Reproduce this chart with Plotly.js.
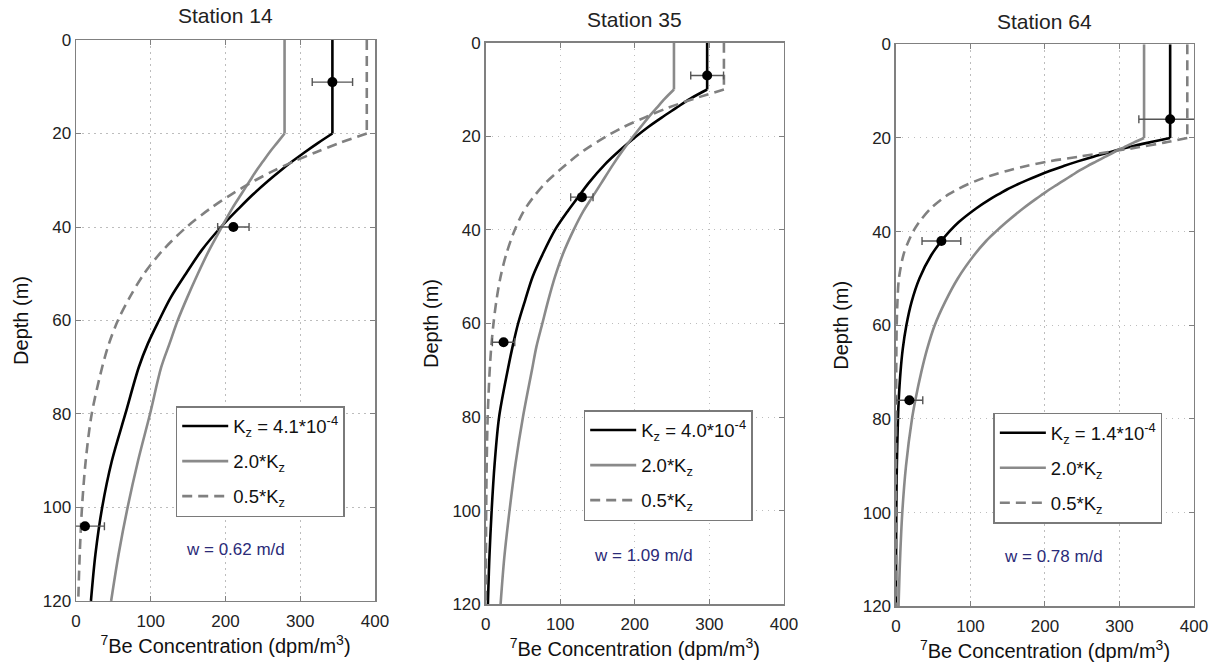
<!DOCTYPE html>
<html>
<head>
<meta charset="utf-8">
<script src="https://cdn.plot.ly/plotly-3.0.1.min.js"></script>
<style>html,body{margin:0;padding:0;background:#fff;}#chart{width:1216px;height:667px;}</style>
</head>
<body>
<div id="chart"></div>
<script>
// ---------------- data ----------------
const stations = ['Station 14', 'Station 35', 'Station 64'];
const wLabels = ['w = 0.62 m/d', 'w = 1.09 m/d', 'w = 0.78 m/d'];
const kzLabels = ['K<sub>z</sub> = 4.1*10<sup>-4</sup>', 'K<sub>z</sub> = 4.0*10<sup>-4</sup>', 'K<sub>z</sub> = 1.4*10<sup>-4</sup>'];
const kz2Label = '2.0*K<sub>z</sub>';
const kz05Label = '0.5*K<sub>z</sub>';

// Station 14 model profiles (mixed layer 0-20 m, then decay)
const depth14 = [0,20,22,24,26,28,30,33,36,40,45,50,55,60,65,70,80,90,100,110,120];
const kz14    = [343,343,324,306,289,273,258,237,218,194,168,147,127,111,96,84,66,48,35,26,20];
const kz14x2  = [279,279,269,259,250,241,233,221,209,195,178,163,149,136,125,114,99,83,69,57,47];
const kz14x05 = [389,389,353,321,291,264,240,208,180,148,116,91,72,56,44,35,21,13,8,5,3];

// Station 35 model profiles (mixed layer 0-10 m)
const depth35 = [0,10,12,14,16,18,20,23,26,30,33,36,40,45,50,55,60,65,70,80,90,100,110,120];
const kz35    = [297,297,274,255,236,218,202,180,160,138,124,110,93,77,63,53,43.5,36,29.5,18,12,8,5,3];
const kz35x2  = [252.5,252.5,240,229,218,208,198,184,171,155,143,131,118,104,93,84,76,68,62,50,40,32,25,20];
const kz35x05 = [319.5,319.5,279,243,213,185,162,132,108,80,64,51,39,28,20,14.5,10.5,7.5,5.4,2.7,1.4,0.7,0.4,0.2];

// Station 64 model profiles (mixed layer 0-20 m)
const depth64 = [0,20,21,22,23,24,25,26,27,28,29,30,31,32,33,35,38,40,42,45,50,55,60,65,70,76,80,90,100,110,120];
const kz64    = [368,368,339,312,288,265,244,225,207,191,176,162,149,138,127,108,84,71.5,61,47.5,31.5,21,14,9.2,6.1,3.7,2.7,1.2,0.5,0.2,0.1];
const kz64x2  = [333,333,319,306,293,281,269,257,246,236,226,216,206,197,188,171,148,134,121,105,83,66,52,42,34,26,21.5,13.5,8.5,5.5,3.5];
const kz64x05 = [391,391,360,325,285,245,205,175,150,128,110,95,82,71,62,47,31,23,17,10,4,2,1,0.6,0.4,0.3,0.2,0.1,0.05,0,0];

// Measured 7Be (dpm/m3) with errors
const obsDepth14 = [9, 40, 104];
const obsConc14  = [343, 210.5, 12];
const obsErr14   = [27, 21, 26];
const obsDepth35 = [7, 33, 64];
const obsConc35  = [297, 129, 24];
const obsErr35   = [22, 15, 15];
const obsDepth64 = [16, 42, 76];
const obsConc64  = [368, 61, 18];
const obsErr64   = [42, 26, 18];

const xTicks = [0, 100, 200, 300, 400];
const yTicks = [0, 20, 40, 60, 80, 100, 120];
const wPos = [[213, 109], [211, 109.5], [212, 109.3]];

// ---------------- build ----------------
const FONT = 'Liberation Sans, Arial, Helvetica, sans-serif';
const depths = [depth14, depth35, depth64];
const models = [[kz14, kz14x2, kz14x05], [kz35, kz35x2, kz35x05], [kz64, kz64x2, kz64x05]];
const obs = [[obsConc14, obsDepth14, obsErr14], [obsConc35, obsDepth35, obsErr35], [obsConc64, obsDepth64, obsErr64]];

const xDom = [[0.0625, 0.3084], [0.3994, 0.6447], [0.7368, 0.9819]];
const yDom = [[0.0990, 0.9400], [0.0940, 0.9360], [0.0910, 0.9336]];
const legPos = [[0.1445, 0.3913], [0.4800, 0.3853], [0.8169, 0.3813]];
const titleY = [0.977, 0.9715, 0.9675];

const styles = [
  {color: '#000000', width: 2.6, dash: 'solid'},
  {color: '#8a8a8a', width: 2.6, dash: 'solid'},
  {color: '#808080', width: 2.6, dash: '10px,6px'}
];

const traces = [];
const layout = {
  width: 1216, height: 667,
  margin: {l: 0, r: 0, t: 0, b: 0},
  paper_bgcolor: '#ffffff', plot_bgcolor: '#ffffff',
  font: {family: FONT, color: '#222222', size: 17},
  annotations: [],
  showlegend: true
};

for (let p = 0; p < 3; p++) {
  const sfx = p === 0 ? '' : String(p + 1);
  const xa = 'x' + sfx, ya = 'y' + sfx;
  const legName = 'legend' + sfx;
  const labels = [kzLabels[p], kz2Label, kz05Label];
  for (let k = 0; k < 3; k++) {
    const xs = models[p][k], ys = depths[p];
    const line = {color: styles[k].color, width: styles[k].width, dash: styles[k].dash};
    // mixed-layer (uniform) part: first two points, straight
    traces.push({
      type: 'scatter', mode: 'lines',
      x: xs.slice(0, 2), y: ys.slice(0, 2),
      xaxis: xa, yaxis: ya, showlegend: false,
      legend: legName, legendgroup: 'g' + p + '_' + k,
      line: Object.assign({shape: 'linear'}, line), hoverinfo: 'skip'
    });
    // decay part below the mixed layer, smooth
    traces.push({
      type: 'scatter', mode: 'lines',
      x: xs.slice(1), y: ys.slice(1),
      xaxis: xa, yaxis: ya,
      name: labels[k],
      legend: legName, legendgroup: 'g' + p + '_' + k,
      line: Object.assign({shape: 'spline', smoothing: 0.9}, line), hoverinfo: 'skip'
    });
  }
  traces.push({
    type: 'scatter', mode: 'markers',
    x: obs[p][0], y: obs[p][1],
    xaxis: xa, yaxis: ya,
    showlegend: false,
    marker: {color: '#000000', size: 10},
    error_x: {type: 'data', array: obs[p][2], visible: true, color: '#555555', thickness: 1.4, width: 4}
  });

  layout['xaxis' + sfx] = {
    domain: xDom[p], anchor: ya, range: [0, 400],
    tickvals: xTicks, ticktext: xTicks.map(String),
    ticks: 'inside', ticklen: 5, tickcolor: '#808080', tickwidth: 1,
    showline: true, linecolor: '#808080', linewidth: 1.5, mirror: 'ticks',
    showgrid: true, gridcolor: '#bdbdbd', gridwidth: 1, griddash: '1.5px,4.5px',
    zeroline: false, fixedrange: true, ticklabelstandoff: 4,
    tickfont: {size: 17, color: '#222222', family: FONT},
    title: {text: '<sup>7</sup>Be Concentration (dpm/m<sup>3</sup>)', font: {size: 20, color: '#111111', family: FONT}, standoff: 9}
  };
  layout['yaxis' + sfx] = {
    domain: yDom[p], anchor: xa, range: [120, 0],
    tickvals: yTicks, ticktext: yTicks.map(String),
    ticks: 'inside', ticklen: 5, tickcolor: '#808080', tickwidth: 1,
    showline: true, linecolor: '#808080', linewidth: 1.5, mirror: 'ticks',
    showgrid: true, gridcolor: '#bdbdbd', gridwidth: 1, griddash: '1.5px,4.5px',
    zeroline: false, fixedrange: true,
    tickfont: {size: 17, color: '#222222', family: FONT},
    title: {text: 'Depth (m)', font: {size: 20, color: '#111111', family: FONT}, standoff: 8}
  };
  layout[legName] = {
    x: legPos[p][0], y: legPos[p][1], xanchor: 'left', yanchor: 'top',
    xref: 'paper', yref: 'paper',
    bgcolor: '#ffffff', bordercolor: '#7a7a7a', borderwidth: 1.5,
    font: {size: 18.5, color: '#111111', family: FONT},
    itemwidth: 46, traceorder: 'grouped', tracegroupgap: 8,
    itemclick: false, itemdoubleclick: false
  };
  layout.annotations.push({
    xref: 'paper', yref: 'paper', x: (xDom[p][0] + xDom[p][1]) / 2, y: titleY[p],
    xanchor: 'center', yanchor: 'middle', showarrow: false,
    text: stations[p], font: {size: 21, color: '#222222', family: FONT}
  });
  layout.annotations.push({
    xref: xa, yref: ya, x: wPos[p][0], y: wPos[p][1],
    xanchor: 'center', yanchor: 'middle', showarrow: false,
    text: wLabels[p], font: {size: 17, color: '#2b2b78', family: FONT}
  });
}

Plotly.newPlot('chart', traces, layout, {displayModeBar: false, staticPlot: true});
</script>
</body>
</html>
